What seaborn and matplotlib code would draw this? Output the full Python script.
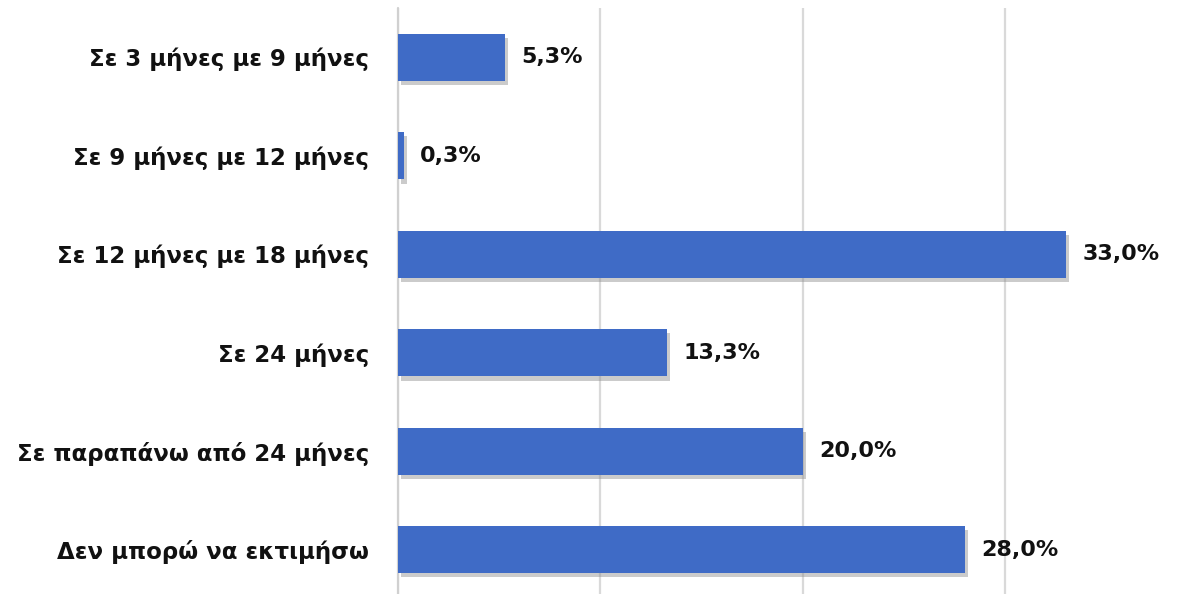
import matplotlib
matplotlib.use("Agg")
import matplotlib.pyplot as plt
import matplotlib.patheffects as pe
import seaborn as sns
import pandas as pd

# ----------------------------
# Data
# ----------------------------
categories = [
    "Σε 3 μήνες με 9 μήνες",
    "Σε 9 μήνες με 12 μήνες",
    "Σε 12 μήνες με 18 μήνες",
    "Σε 24 μήνες",
    "Σε παραπάνω από 24 μήνες",
    "Δεν μπορώ να εκτιμήσω",
]
values = [5.3, 0.3, 33.0, 13.3, 20.0, 28.0]
value_labels = ["5,3%", "0,3%", "33,0%", "13,3%", "20,0%", "28,0%"]

df = pd.DataFrame({"category": categories, "value": values})

# ----------------------------
# Plot
# ----------------------------
sns.set_style("white")
plt.rcParams['font.family'] = ['DejaVu Sans']

fig = plt.figure(figsize=(11.95, 5.94), dpi=100)
ax = fig.add_axes([398 / 1195, 0.0, 1 - 398 / 1195, 1 - 8 / 594])

sns.barplot(data=df, x="value", y="category", orient="h",
            color="#3F6BC6", saturation=1, width=0.48, linewidth=0,
            ax=ax, zorder=3)

for bar in ax.patches:
    bar.set_path_effects([
        pe.SimplePatchShadow(offset=(2, -3), shadow_rgbFace="#8c8c8c", alpha=0.45),
        pe.Normal(),
    ])

for i, (v, lab) in enumerate(zip(values, value_labels)):
    ax.text(v + 0.8, i, lab, va="center", ha="left",
            fontsize=16, fontweight="bold", color="#111111")

ax.set_xlim(0, 39.36)
ax.set_ylim(5.45, -0.5)
ax.set_xticks([0, 10, 20, 30])
ax.set_xticklabels([])
ax.tick_params(axis="x", length=0)
ax.tick_params(axis="y", length=0, pad=21)
ax.xaxis.grid(True, color="#d9d9d9", linewidth=1.6, zorder=0)
ax.axvline(0, color="#d0d0d0", linewidth=1.6, zorder=1, clip_on=False)
ax.set_axisbelow(True)
for s in ax.spines.values():
    s.set_visible(False)
ax.set_xlabel("")
ax.set_ylabel("")
for t in ax.get_yticklabels():
    t.set_fontsize(16.5)
    t.set_fontweight("bold")
    t.set_color("#111111")

fig.savefig("out.png", dpi=100, facecolor="white")
